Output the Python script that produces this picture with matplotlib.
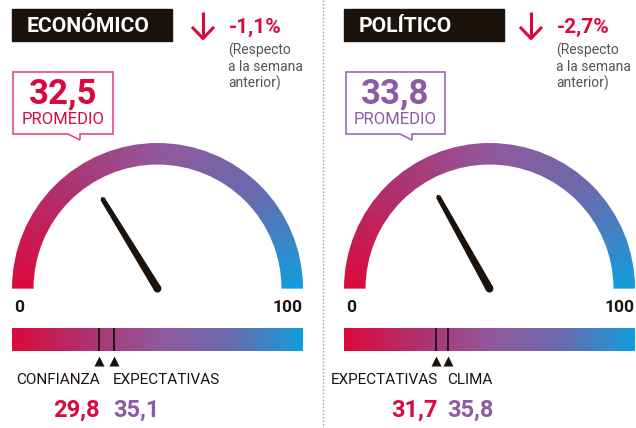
import numpy as np
import matplotlib
matplotlib.use('Agg')
import matplotlib.pyplot as plt
from matplotlib.colors import LinearSegmentedColormap
from matplotlib.patches import Wedge, Rectangle, Polygon, Circle

# data
titles = ['ECONÓMICO', 'POLÍTICO']
changes = ['-1,1%', '-2,7%']
averages = [32.5, 33.8]
sub_labels = [['CONFIANZA', 'EXPECTATIVAS'], ['EXPECTATIVAS', 'CLIMA']]
sub_values = [[29.8, 35.1], [31.7, 35.8]]
note = '(Respecto\na la semana\nanterior)'

RED = '#d9083f'
PURPLE = '#8d5aa5'
DARK = '#1b120c'
GRAY = '#555555'
cmap = LinearSegmentedColormap.from_list(
    'g', ['#dc0a3c', '#b0306e', '#92589c', '#6a6aae', '#129ddc'])

plt.rcParams['font.family'] = ['Roboto', 'DejaVu Sans']

W, H = 636, 428
fig = plt.figure(figsize=(W / 100, H / 100), dpi=100)
ax = fig.add_axes([0, 0, 1, 1])
ax.set_xlim(0, W)
ax.set_ylim(H, 0)
ax.axis('off')


def box_axes(x0, y0, x1, y1):
    return fig.add_axes([x0 / W, 1 - y1 / H, (x1 - x0) / W, (y1 - y0) / H])


def fmt(v):
    return f'{v:.1f}'.replace('.', ',')


# divider
ax.plot([323, 323], [0, H], color='#999999', lw=1, ls=(0, (1, 1.5)))

for i in range(2):
    dx = i * 332
    col = RED if i == 0 else PURPLE
    box_col = '#e2506f' if i == 0 else '#9a6ab5'
    sh = 4 if i else 0

    # title box
    ax.add_patch(Rectangle((12 + dx, 9), 160, 32, color=DARK))
    ax.text(27 + dx, 26, titles[i], color='white', fontsize=15.2,
            fontweight='bold', va='center', ha='left')

    # arrow
    ax_ = 203 + dx - sh
    ax.plot([ax_, ax_], [12, 38], color=RED, lw=2.2, solid_capstyle='butt')
    ax.plot([ax_ - 10, ax_, ax_ + 10], [28, 38.5, 28], color=RED, lw=2.2)
    ax.text(229 + dx - sh, 27, changes[i], color=RED, fontsize=15,
            fontweight='bold', va='center', ha='left')
    ax.text(228 + dx - sh, 43, note, color=GRAY, fontsize=10,
            va='top', ha='left', linespacing=1.15)

    # callout
    bx0, bx1 = 13 + dx + (1 if i else 0), 113 + dx
    ax.add_patch(Polygon([[bx0, 72], [bx1, 72], [bx1, 134], [80 + dx, 134],
                          [80 + dx, 140], [68 + dx, 134], [bx0, 134]],
                         closed=True, fill=False, ec=box_col, lw=1.2))
    cx = (bx0 + bx1) / 2
    ax.text(cx, 94, fmt(averages[i]), color=col, fontsize=25,
            fontweight='bold', ha='center', va='center')
    ax.text(cx, 119, 'PROMEDIO', color=col, fontsize=12,
            ha='center', va='center')

    # gauge
    g = box_axes(12 + dx, 143, 303 + dx, 293)
    g.set_xlim(-1, 1)
    g.set_ylim(-0.03, 1.0)
    g.axis('off')
    xs = np.linspace(-1, 1, 400)
    ys = np.linspace(0, 1, 200)
    X, Y = np.meshgrid(xs, ys)
    T = 1 - np.arctan2(Y, X) / np.pi
    im = g.imshow(T, extent=[-1, 1, 0, 1], origin='lower', cmap=cmap,
                  vmin=0, vmax=1, aspect='auto')
    wedge = Wedge((0, 0), 1.0, 0, 180, width=0.148, transform=g.transData)
    im.set_clip_path(wedge)
    ang = np.pi * (1 - averages[i] / 100)
    L = 0.72
    ux, uy = np.cos(ang), np.sin(ang)
    px, py = -uy, ux
    wb, wt = 0.022, 0.012
    needle = [[px * wb, py * wb], [ux * L + px * wt, uy * L + py * wt],
              [ux * (L + 0.012), uy * (L + 0.012)],
              [ux * L - px * wt, uy * L - py * wt], [-px * wb, -py * wb]]
    g.add_patch(Polygon(needle, closed=True, color=DARK))
    g.add_patch(Circle((0, 0), wb, color=DARK))

    ax.text(14 + dx, 308, '0', fontsize=12.5, fontweight='bold', color=DARK,
            ha='left', va='center')
    ax.text(303 + dx, 308, '100', fontsize=12.5, fontweight='bold', color=DARK,
            ha='right', va='center')

    # bar
    b = box_axes(12 + dx, 328, 303 + dx, 351)
    b.set_xlim(0, 100)
    b.set_ylim(0, 1)
    b.axis('off')
    b.imshow(np.linspace(0, 1, 300)[None, :], extent=[0, 100, 0, 1],
             cmap=cmap, aspect='auto')
    t = box_axes(12 + dx, 355, 303 + dx, 366)
    t.set_xlim(0, 100)
    t.set_ylim(0, 1)
    t.axis('off')
    for k, v in enumerate(sub_values[i]):
        b.plot([v, v], [0, 1], color=DARK, lw=1.3)
        t.plot([v], [0.45], marker='^', ms=7, color=DARK, mec='none')
        ha = 'right' if k == 0 else 'left'
        off = 1.5 if k == 0 else -1.0
        xp = 12 + dx + v / 100 * 291
        ax.text(xp + off, 380, sub_labels[i][k], color=DARK, fontsize=11,
                ha=ha, va='center')
        ax.text(xp + off, 410, fmt(v), color=RED if k == 0 else PURPLE,
                fontsize=17, fontweight='bold', ha=ha, va='center')

fig.savefig('out.png', dpi=100)
